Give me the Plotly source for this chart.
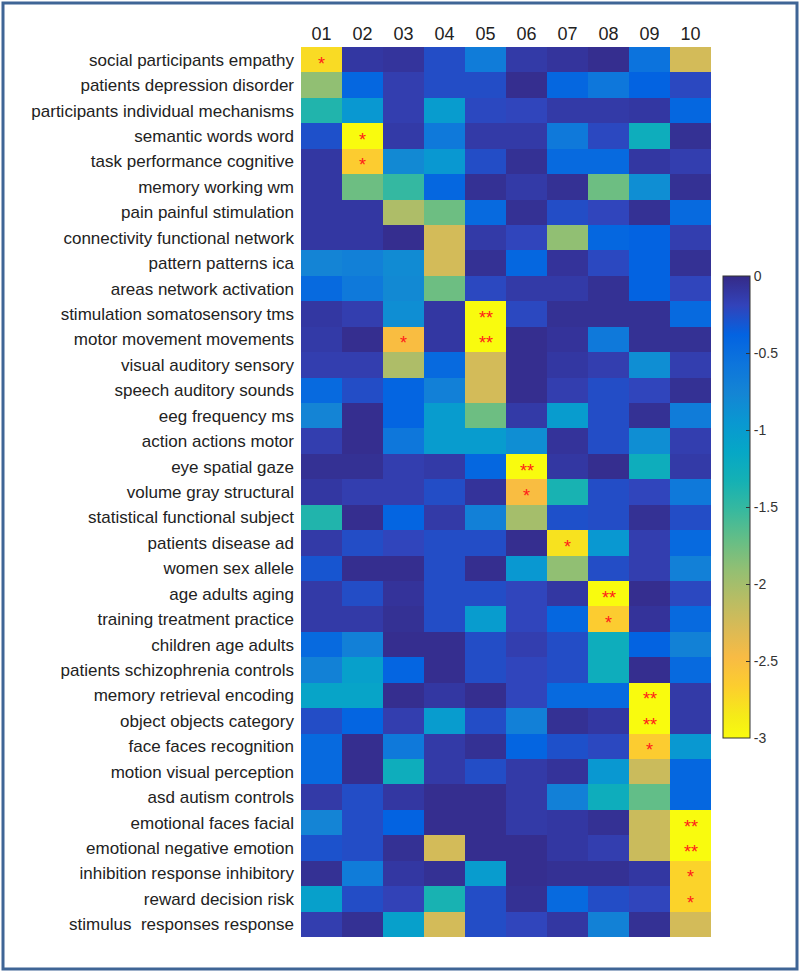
import plotly.graph_objects as go

topics = [
    "social participants empathy", "patients depression disorder", "participants individual mechanisms",
    "semantic words word", "task performance cognitive", "memory working wm", "pain painful stimulation",
    "connectivity functional network", "pattern patterns ica", "areas network activation",
    "stimulation somatosensory tms", "motor movement movements", "visual auditory sensory",
    "speech auditory sounds", "eeg frequency ms", "action actions motor", "eye spatial gaze",
    "volume gray structural", "statistical functional subject", "patients disease ad",
    "women sex allele", "age adults aging", "training treatment practice", "children age adults",
    "patients schizophrenia controls", "memory retrieval encoding", "object objects category",
    "face faces recognition", "motion visual perception", "asd autism controls",
    "emotional faces facial", "emotional negative emotion", "inhibition response inhibitory",
    "reward decision risk", "stimulus  responses response",
]
components = ["01", "02", "03", "04", "05", "06", "07", "08", "09", "10"]

values = [
    [-2.75, -0.10, -0.08, -0.25, -0.65, -0.12, -0.08, -0.03, -0.55, -2.25],
    [-1.90, -0.42, -0.15, -0.25, -0.25, -0.03, -0.42, -0.60, -0.38, -0.22],
    [-1.40, -0.95, -0.15, -1.00, -0.22, -0.20, -0.12, -0.12, -0.10, -0.42],
    [-0.27, -3.00, -0.12, -0.62, -0.12, -0.12, -0.62, -0.22, -1.25, -0.05],
    [-0.10, -2.65, -0.80, -0.95, -0.25, -0.05, -0.45, -0.45, -0.10, -0.15],
    [-0.10, -1.75, -1.50, -0.42, -0.05, -0.12, -0.05, -1.75, -0.85, -0.05],
    [-0.10, -0.10, -2.05, -1.75, -0.45, -0.05, -0.25, -0.20, -0.05, -0.45],
    [-0.10, -0.10, -0.03, -2.25, -0.12, -0.20, -1.90, -0.42, -0.38, -0.15],
    [-0.75, -0.70, -0.82, -2.25, -0.05, -0.42, -0.07, -0.22, -0.38, -0.05],
    [-0.45, -0.62, -0.80, -1.75, -0.22, -0.12, -0.12, -0.05, -0.38, -0.20],
    [-0.10, -0.15, -0.85, -0.10, -3.00, -0.22, -0.05, -0.05, -0.05, -0.45],
    [-0.12, -0.03, -2.50, -0.10, -3.00, -0.03, -0.07, -0.62, -0.05, -0.05],
    [-0.15, -0.15, -2.05, -0.45, -2.25, -0.03, -0.10, -0.15, -0.85, -0.15],
    [-0.45, -0.25, -0.40, -0.70, -2.25, -0.03, -0.15, -0.25, -0.20, -0.05],
    [-0.75, -0.03, -0.40, -1.00, -1.75, -0.12, -1.00, -0.25, -0.05, -0.65],
    [-0.15, -0.03, -0.60, -1.00, -1.00, -0.85, -0.07, -0.25, -0.85, -0.15],
    [-0.05, -0.05, -0.15, -0.12, -0.42, -3.00, -0.10, -0.03, -1.25, -0.12],
    [-0.10, -0.15, -0.15, -0.25, -0.07, -2.50, -1.35, -0.25, -0.20, -0.62],
    [-1.40, -0.03, -0.40, -0.12, -0.70, -2.00, -0.27, -0.25, -0.05, -0.25],
    [-0.12, -0.25, -0.20, -0.25, -0.25, -0.03, -2.80, -0.95, -0.15, -0.45],
    [-0.30, -0.03, -0.03, -0.25, -0.03, -0.95, -1.90, -0.25, -0.15, -0.70],
    [-0.12, -0.25, -0.07, -0.25, -0.25, -0.20, -0.10, -3.00, -0.03, -0.22],
    [-0.12, -0.12, -0.05, -0.25, -1.00, -0.20, -0.42, -2.65, -0.07, -0.45],
    [-0.45, -0.70, -0.03, -0.03, -0.25, -0.15, -0.25, -1.25, -0.38, -0.72],
    [-0.72, -1.05, -0.40, -0.03, -0.25, -0.20, -0.25, -1.25, -0.03, -0.45],
    [-1.10, -1.10, -0.03, -0.10, -0.03, -0.20, -0.45, -0.45, -3.00, -0.12],
    [-0.25, -0.40, -0.15, -1.00, -0.25, -0.70, -0.05, -0.10, -3.00, -0.12],
    [-0.45, -0.03, -0.62, -0.12, -0.05, -0.40, -0.27, -0.22, -2.65, -0.95],
    [-0.45, -0.03, -1.25, -0.12, -0.25, -0.12, -0.07, -0.95, -2.20, -0.42],
    [-0.12, -0.25, -0.10, -0.03, -0.03, -0.12, -0.70, -1.25, -1.70, -0.42],
    [-0.75, -0.25, -0.38, -0.03, -0.03, -0.12, -0.10, -0.05, -2.20, -3.00],
    [-0.28, -0.25, -0.05, -2.25, -0.03, -0.03, -0.10, -0.15, -2.20, -3.00],
    [-0.05, -0.65, -0.10, -0.05, -1.00, -0.03, -0.05, -0.05, -0.10, -2.70],
    [-1.05, -0.25, -0.18, -1.35, -0.25, -0.05, -0.45, -0.25, -0.20, -2.70],
    [-0.15, -0.05, -1.05, -2.25, -0.25, -0.20, -0.10, -0.72, -0.05, -2.25],
]

# significance markers: (topic index, component, marker)
markers = [
    (0, "01", "*"), (3, "02", "*"), (4, "02", "*"), (10, "05", "**"), (11, "05", "**"),
    (11, "03", "*"), (16, "06", "**"), (17, "06", "*"), (19, "07", "*"), (21, "08", "**"),
    (22, "08", "*"), (25, "09", "**"), (26, "09", "**"), (27, "09", "*"), (30, "10", "**"),
    (31, "10", "**"), (32, "10", "*"), (33, "10", "*"),
]

cbar_ticks = [0, -0.5, -1, -1.5, -2, -2.5, -3]

# parula colormap (sampled), reversed so that -3 is yellow and 0 is dark blue
parula = [
    (0.2081, 0.1663, 0.5292), (0.1959, 0.2645, 0.7279), (0.0117, 0.3875, 0.8820),
    (0.0498, 0.4586, 0.8641), (0.0793, 0.5200, 0.8312), (0.0343, 0.5966, 0.8199),
    (0.0228, 0.6535, 0.7768), (0.0843, 0.6928, 0.7062), (0.2178, 0.7250, 0.6193),
    (0.3953, 0.7459, 0.5244), (0.5709, 0.7485, 0.4494), (0.7184, 0.7411, 0.3905),
    (0.8507, 0.7299, 0.3360), (0.9739, 0.7314, 0.2666), (0.9880, 0.8066, 0.1794),
    (0.9598, 0.9218, 0.0948), (0.9763, 0.9831, 0.0538),
]
pos = [0, 4, 8, 12, 16, 20, 24, 28, 32, 36, 40, 44, 48, 52, 56, 60, 63]
colorscale = []
for p, c in sorted(zip([1 - q / 63 for q in pos], parula)):
    colorscale.append([p, "rgb(%d,%d,%d)" % tuple(round(v * 255) for v in c)])

xi = list(range(len(components)))
yi = list(range(len(topics)))

fig = go.Figure(go.Heatmap(
    z=values, x=xi, y=yi, zmin=-3, zmax=0,
    colorscale=colorscale,
    colorbar=dict(
        tickvals=cbar_ticks, ticktext=[str(t) for t in cbar_ticks],
        ticks="inside", ticklen=4, tickcolor="#333",
        thickness=27, thicknessmode="pixels",
        len=462, lenmode="pixels",
        x=1.029, xanchor="left", y=0.483, yanchor="middle",
        outlinewidth=1, outlinecolor="#333",
        tickfont=dict(family="Arial, Liberation Sans", size=14, color="#333"),
        xpad=0, ypad=0,
    ),
    hoverinfo="skip",
))

for r, c, m in markers:
    fig.add_annotation(x=components.index(c), y=r, text=m, showarrow=False,
                       font=dict(family="Arial, Liberation Sans", size=18, color="#ff1a1a"),
                       yshift=-4)

W, H = 800, 973
L, R, T, B = 301, 89, 47, 36
pw, ph = W - L - R, H - T - B
fig.add_shape(type="rect", xref="paper", yref="paper",
              x0=(3 - L) / pw, x1=(797 - L) / pw,
              y0=(H - B - 969) / ph, y1=(H - B - 3) / ph,
              line=dict(color="#3f6596", width=3), layer="above")

fig.update_layout(
    width=W, height=H,
    margin=dict(l=L, r=R, t=T, b=B),
    paper_bgcolor="white", plot_bgcolor="white",
    font=dict(family="Arial, Liberation Sans", color="#222"),
    xaxis=dict(side="top", tickmode="array", tickvals=xi, ticktext=components,
               tickfont=dict(size=18, color="#222"), showgrid=False,
               zeroline=False, ticks="", ticklabelstandoff=2, range=[-0.5, 9.5]),
    yaxis=dict(tickmode="array", tickvals=yi, ticktext=topics, range=[34.5, -0.5],
               tickfont=dict(size=17, color="#222"), showgrid=False,
               zeroline=False, ticks="", ticklabelstandoff=6),
)

fig.write_html("out.html", config={"displayModeBar": False, "staticPlot": True},
               post_script="document.body.style.margin='0';document.body.style.overflow='hidden';")
